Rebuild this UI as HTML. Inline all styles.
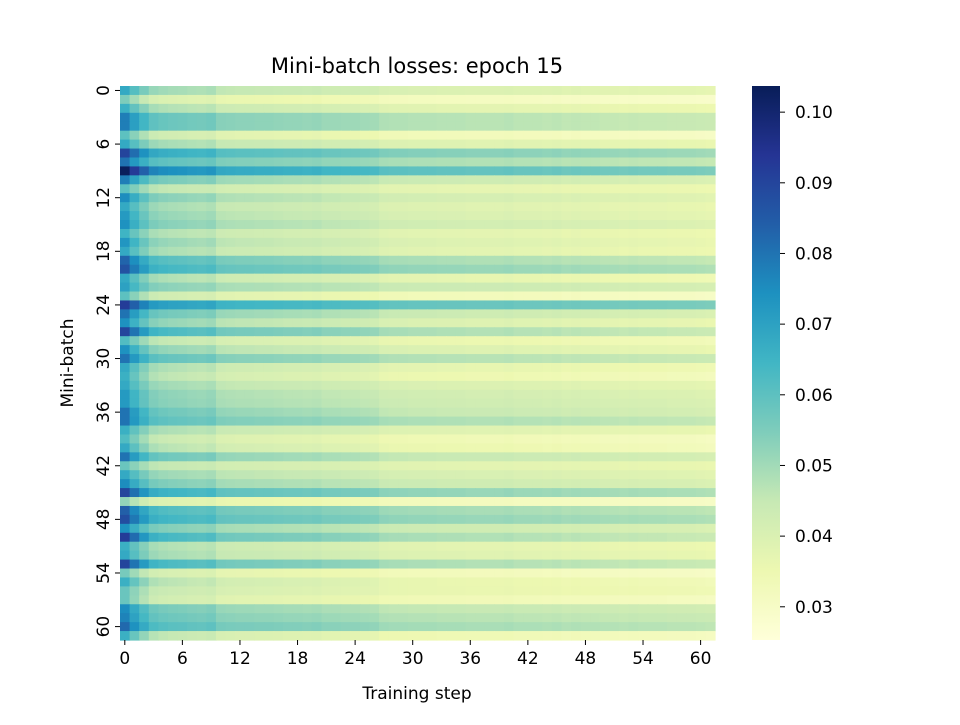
<!DOCTYPE html>
<html><head><meta charset="utf-8"><style>
body{margin:0;background:#fff;font-family:"Liberation Sans","DejaVu Sans",sans-serif}
svg text{font-family:"DejaVu Sans","Liberation Sans",sans-serif}
</style></head><body>
<svg id="chart" width="960" height="720" xmlns="http://www.w3.org/2000/svg">
<text x="417" y="73" font-size="21" text-anchor="middle">Mini-batch losses: epoch 15</text>
<text x="417" y="699" font-size="17" text-anchor="middle">Training step</text>
<text transform="translate(73,363) rotate(-90)" font-size="17" text-anchor="middle">Mini-batch</text>
<g id="cells"></g>
<g id="axes"></g>
<defs><linearGradient id="cbg" x1="0" y1="1" x2="0" y2="0"></linearGradient></defs>
<rect x="752" y="86" width="28" height="554" fill="url(#cbg)"/>
<g id="cbar"></g>
</svg>
<script>
const rowStart=[0.068,0.055,0.066,0.078,0.078,0.060,0.068,0.090,0.080,0.103,0.078,0.060,0.075,0.068,0.072,0.074,0.065,0.073,0.068,0.083,0.087,0.068,0.070,0.060,0.092,0.080,0.074,0.090,0.062,0.074,0.080,0.068,0.066,0.068,0.072,0.072,0.080,0.080,0.066,0.062,0.068,0.080,0.058,0.068,0.075,0.090,0.052,0.084,0.088,0.074,0.092,0.066,0.068,0.090,0.056,0.066,0.058,0.058,0.075,0.077,0.082,0.066];
const rowEnd=[0.037,0.029,0.035,0.044,0.044,0.030,0.036,0.050,0.045,0.055,0.040,0.035,0.038,0.036,0.037,0.039,0.035,0.036,0.035,0.045,0.048,0.034,0.041,0.030,0.055,0.040,0.036,0.044,0.033,0.036,0.044,0.034,0.032,0.037,0.039,0.040,0.041,0.045,0.036,0.031,0.032,0.041,0.036,0.038,0.040,0.048,0.030,0.046,0.048,0.040,0.044,0.035,0.036,0.044,0.030,0.033,0.034,0.031,0.042,0.044,0.046,0.031];
const stepProfile=[1,0.78,0.6,0.46,0.42,0.4,0.39,0.37,0.36,0.38,0.28,0.27,0.26,0.26,0.25,0.25,0.24,0.23,0.23,0.22,0.23,0.2,0.2,0.19,0.19,0.18,0.17,0.12,0.11,0.11,0.1,0.1,0.1,0.09,0.09,0.09,0.08,0.08,0.08,0.08,0.09,0.07,0.07,0.07,0.06,0.07,0.05,0.06,0.05,0.05,0.04,0.04,0.03,0.04,0.03,0.03,0.03,0.02,0.02,0.02,0.01,0];
const xTicks=[0,6,12,18,24,30,36,42,48,54,60];
const yTicks=[0,6,12,18,24,30,36,42,48,54,60];
const cbTicks=[0.03,0.04,0.05,0.06,0.07,0.08,0.09,0.10];
const vmin=0.0253,vmax=0.1037;
const X0=120,X1=715,Y0=86,Y1=640;
const nC=stepProfile.length,nR=rowStart.length;
const cw=(X1-X0)/nC,ch=(Y1-Y0)/nR;
const xs=c=>X0+c*cw, ys=r=>Y0+r*ch;
const stops=['#ffffd9','#edf8b1','#c7e9b4','#7fcdbb','#41b6c4','#1d91c0','#225ea8','#253494','#081d58'];
function hex(h){return [1,3,5].map(i=>parseInt(h.substr(i,2),16));}
function color(v){let t=Math.max(0,Math.min(1,(v-vmin)/(vmax-vmin)))*(stops.length-1);let i=Math.min(stops.length-2,Math.floor(t)),f=t-i;let a=hex(stops[i]),b=hex(stops[i+1]);return 'rgb('+a.map((x,k)=>Math.round(x+(b[k]-x)*f)).join(',')+')';}
const NS='http://www.w3.org/2000/svg';
function mk(tag,attrs,parent){const e=document.createElementNS(NS,tag);for(const k in attrs)e.setAttribute(k,attrs[k]);parent.appendChild(e);return e;}
const cells=document.getElementById('cells');
for(let r=0;r<nR;r++)for(let c=0;c<nC;c++){
 const v=rowEnd[r]+(rowStart[r]-rowEnd[r])*stepProfile[c];
 const e=mk('rect',{x:xs(c).toFixed(2),y:ys(r).toFixed(2),width:(cw+0.6).toFixed(2),height:(ch+0.6).toFixed(2),fill:color(v)},cells);
 
 
}
const ax=document.getElementById('axes');
xTicks.forEach(t=>{const x=xs(t)+cw/2;
 const l=mk('line',{x1:x,x2:x,y1:Y1,y2:Y1+5,stroke:'#000','stroke-width':1},ax);
 
 
 const tx=mk('text',{x:x,y:Y1+24,'font-size':17,'text-anchor':'middle'},ax);tx.textContent=t;
 
 
});
yTicks.forEach(t=>{const y=ys(t)+ch/2;
 const l=mk('line',{x1:X0-5,x2:X0,y1:y,y2:y,stroke:'#000','stroke-width':1},ax);
 
 
 const tx=mk('text',{transform:'translate('+(X0-11)+','+y+') rotate(-90)','font-size':17,'text-anchor':'middle'},ax);tx.textContent=t;
 
 
});
const g=document.getElementById('cbg');
stops.forEach((s,i)=>mk('stop',{offset:(i/(stops.length-1)),'stop-color':s},g));
const cb=document.getElementById('cbar');
cbTicks.forEach(t=>{const y=Y1-(t-vmin)/(vmax-vmin)*(Y1-Y0);
 const l=mk('line',{x1:780,x2:785,y1:y,y2:y,stroke:'#000','stroke-width':1},cb);
 
 
 const tx=mk('text',{x:795,y:y+6,'font-size':17},cb);tx.textContent=t.toFixed(2);
 
 
});
</script>
</body></html>
